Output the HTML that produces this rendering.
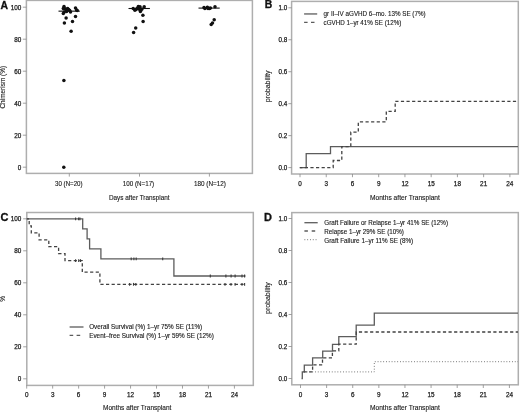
<!DOCTYPE html>
<html><head><meta charset="utf-8"><style>
html,body{margin:0;padding:0;background:#fff;}
body{width:520px;height:412px;overflow:hidden;}
svg{display:block;font-family:"Liberation Sans", sans-serif;will-change:transform;}
</style></head><body>
<svg width="520" height="412" viewBox="0 0 520 412" font-family='"Liberation Sans", sans-serif'>
<rect x="0" y="0" width="520" height="412" fill="#fff"/>
<rect x="26.40" y="0.40" width="226.00" height="173.00" fill="none" stroke="#aeaeae" stroke-width="1.5"/>
<line x1="22.80" y1="167.20" x2="26.40" y2="167.20" stroke="#8a8a8a" stroke-width="0.8" stroke-linecap="butt"/>
<text x="21.40" y="169.70" font-size="6.9" text-anchor="end" fill="#1a1a1a" textLength="3.54" lengthAdjust="spacingAndGlyphs" stroke="#1a1a1a" stroke-width="0.25">0</text>
<line x1="22.80" y1="135.20" x2="26.40" y2="135.20" stroke="#8a8a8a" stroke-width="0.8" stroke-linecap="butt"/>
<text x="21.40" y="137.70" font-size="6.9" text-anchor="end" fill="#1a1a1a" textLength="7.08" lengthAdjust="spacingAndGlyphs" stroke="#1a1a1a" stroke-width="0.25">20</text>
<line x1="22.80" y1="103.20" x2="26.40" y2="103.20" stroke="#8a8a8a" stroke-width="0.8" stroke-linecap="butt"/>
<text x="21.40" y="105.70" font-size="6.9" text-anchor="end" fill="#1a1a1a" textLength="7.08" lengthAdjust="spacingAndGlyphs" stroke="#1a1a1a" stroke-width="0.25">40</text>
<line x1="22.80" y1="71.20" x2="26.40" y2="71.20" stroke="#8a8a8a" stroke-width="0.8" stroke-linecap="butt"/>
<text x="21.40" y="73.70" font-size="6.9" text-anchor="end" fill="#1a1a1a" textLength="7.08" lengthAdjust="spacingAndGlyphs" stroke="#1a1a1a" stroke-width="0.25">60</text>
<line x1="22.80" y1="39.20" x2="26.40" y2="39.20" stroke="#8a8a8a" stroke-width="0.8" stroke-linecap="butt"/>
<text x="21.40" y="41.70" font-size="6.9" text-anchor="end" fill="#1a1a1a" textLength="7.08" lengthAdjust="spacingAndGlyphs" stroke="#1a1a1a" stroke-width="0.25">80</text>
<line x1="22.80" y1="7.20" x2="26.40" y2="7.20" stroke="#8a8a8a" stroke-width="0.8" stroke-linecap="butt"/>
<text x="21.40" y="9.70" font-size="6.9" text-anchor="end" fill="#1a1a1a" textLength="10.62" lengthAdjust="spacingAndGlyphs" stroke="#1a1a1a" stroke-width="0.25">100</text>
<line x1="69.30" y1="173.40" x2="69.30" y2="176.60" stroke="#8a8a8a" stroke-width="0.8" stroke-linecap="butt"/>
<text x="68.80" y="186.30" font-size="6.5" text-anchor="middle" fill="#1a1a1a" textLength="27.6" lengthAdjust="spacingAndGlyphs" stroke="#1a1a1a" stroke-width="0.12">30 (N=20)</text>
<line x1="139.50" y1="173.40" x2="139.50" y2="176.60" stroke="#8a8a8a" stroke-width="0.8" stroke-linecap="butt"/>
<text x="138.50" y="186.30" font-size="6.5" text-anchor="middle" fill="#1a1a1a" textLength="31.4" lengthAdjust="spacingAndGlyphs" stroke="#1a1a1a" stroke-width="0.12">100 (N=17)</text>
<line x1="209.40" y1="173.40" x2="209.40" y2="176.60" stroke="#8a8a8a" stroke-width="0.8" stroke-linecap="butt"/>
<text x="209.90" y="186.30" font-size="6.5" text-anchor="middle" fill="#1a1a1a" textLength="32.0" lengthAdjust="spacingAndGlyphs" stroke="#1a1a1a" stroke-width="0.12">180 (N=12)</text>
<text x="139.30" y="199.50" font-size="6.7" text-anchor="middle" fill="#1a1a1a" textLength="60.7" lengthAdjust="spacingAndGlyphs" stroke="#1a1a1a" stroke-width="0.12">Days after Transplant</text>
<text x="5.20" y="87.20" font-size="6.6" text-anchor="middle" fill="#1a1a1a" textLength="42.7" lengthAdjust="spacingAndGlyphs" transform="rotate(-90 5.20 87.20)" stroke="#1a1a1a" stroke-width="0.12">Chimerism (%)</text>
<text x="0.40" y="8.60" font-size="10.4" text-anchor="start" fill="#111" font-weight="bold" stroke="#111" stroke-width="0.3">A</text>
<line x1="58.50" y1="11.15" x2="79.80" y2="11.15" stroke="#111" stroke-width="1.1" stroke-linecap="butt"/>
<line x1="128.50" y1="8.50" x2="149.90" y2="8.50" stroke="#111" stroke-width="1.1" stroke-linecap="butt"/>
<line x1="198.50" y1="8.10" x2="219.70" y2="8.10" stroke="#111" stroke-width="1.1" stroke-linecap="butt"/>
<circle cx="64.00" cy="6.60" r="1.75" fill="#111"/>
<circle cx="63.30" cy="8.60" r="1.75" fill="#111"/>
<circle cx="65.20" cy="8.80" r="1.75" fill="#111"/>
<circle cx="66.30" cy="10.00" r="1.75" fill="#111"/>
<circle cx="67.60" cy="8.60" r="1.75" fill="#111"/>
<circle cx="68.70" cy="9.60" r="1.75" fill="#111"/>
<circle cx="69.70" cy="10.60" r="1.75" fill="#111"/>
<circle cx="70.50" cy="12.00" r="1.75" fill="#111"/>
<circle cx="64.20" cy="12.00" r="1.75" fill="#111"/>
<circle cx="63.30" cy="13.50" r="1.75" fill="#111"/>
<circle cx="66.60" cy="11.60" r="1.75" fill="#111"/>
<circle cx="75.50" cy="8.00" r="1.75" fill="#111"/>
<circle cx="76.60" cy="10.00" r="1.75" fill="#111"/>
<circle cx="77.20" cy="10.60" r="1.75" fill="#111"/>
<circle cx="66.10" cy="18.10" r="1.75" fill="#111"/>
<circle cx="75.50" cy="16.60" r="1.75" fill="#111"/>
<circle cx="64.40" cy="22.90" r="1.75" fill="#111"/>
<circle cx="72.50" cy="21.40" r="1.75" fill="#111"/>
<circle cx="71.10" cy="31.20" r="1.75" fill="#111"/>
<circle cx="63.90" cy="80.60" r="1.75" fill="#111"/>
<circle cx="63.80" cy="167.20" r="1.75" fill="#111"/>
<circle cx="133.20" cy="8.50" r="1.75" fill="#111"/>
<circle cx="134.90" cy="10.20" r="1.75" fill="#111"/>
<circle cx="138.30" cy="6.40" r="1.75" fill="#111"/>
<circle cx="140.00" cy="6.80" r="1.75" fill="#111"/>
<circle cx="140.40" cy="11.50" r="1.75" fill="#111"/>
<circle cx="142.00" cy="8.90" r="1.75" fill="#111"/>
<circle cx="144.20" cy="6.80" r="1.75" fill="#111"/>
<circle cx="137.00" cy="8.50" r="1.75" fill="#111"/>
<circle cx="136.00" cy="9.60" r="1.75" fill="#111"/>
<circle cx="139.20" cy="9.20" r="1.75" fill="#111"/>
<circle cx="141.00" cy="10.00" r="1.75" fill="#111"/>
<circle cx="142.90" cy="15.30" r="1.75" fill="#111"/>
<circle cx="143.10" cy="21.50" r="1.75" fill="#111"/>
<circle cx="135.70" cy="27.90" r="1.75" fill="#111"/>
<circle cx="133.60" cy="32.50" r="1.75" fill="#111"/>
<circle cx="204.00" cy="7.60" r="1.75" fill="#111"/>
<circle cx="207.40" cy="7.20" r="1.75" fill="#111"/>
<circle cx="209.50" cy="8.50" r="1.75" fill="#111"/>
<circle cx="215.00" cy="6.80" r="1.75" fill="#111"/>
<circle cx="204.90" cy="8.50" r="1.75" fill="#111"/>
<circle cx="210.40" cy="8.10" r="1.75" fill="#111"/>
<circle cx="208.00" cy="8.60" r="1.75" fill="#111"/>
<circle cx="214.20" cy="19.70" r="1.75" fill="#111"/>
<circle cx="212.50" cy="22.90" r="1.75" fill="#111"/>
<circle cx="211.20" cy="24.60" r="1.75" fill="#111"/>
<rect x="291.60" y="1.40" width="226.70" height="172.60" fill="none" stroke="#aeaeae" stroke-width="1.5"/>
<line x1="288.40" y1="167.60" x2="291.60" y2="167.60" stroke="#8a8a8a" stroke-width="0.8" stroke-linecap="butt"/>
<text x="287.30" y="170.10" font-size="6.9" text-anchor="end" fill="#1a1a1a" textLength="8.76" lengthAdjust="spacingAndGlyphs" stroke="#1a1a1a" stroke-width="0.25">0.0</text>
<line x1="288.40" y1="135.64" x2="291.60" y2="135.64" stroke="#8a8a8a" stroke-width="0.8" stroke-linecap="butt"/>
<text x="287.30" y="138.14" font-size="6.9" text-anchor="end" fill="#1a1a1a" textLength="8.76" lengthAdjust="spacingAndGlyphs" stroke="#1a1a1a" stroke-width="0.25">0.2</text>
<line x1="288.40" y1="103.68" x2="291.60" y2="103.68" stroke="#8a8a8a" stroke-width="0.8" stroke-linecap="butt"/>
<text x="287.30" y="106.18" font-size="6.9" text-anchor="end" fill="#1a1a1a" textLength="8.76" lengthAdjust="spacingAndGlyphs" stroke="#1a1a1a" stroke-width="0.25">0.4</text>
<line x1="288.40" y1="71.72" x2="291.60" y2="71.72" stroke="#8a8a8a" stroke-width="0.8" stroke-linecap="butt"/>
<text x="287.30" y="74.22" font-size="6.9" text-anchor="end" fill="#1a1a1a" textLength="8.76" lengthAdjust="spacingAndGlyphs" stroke="#1a1a1a" stroke-width="0.25">0.6</text>
<line x1="288.40" y1="39.76" x2="291.60" y2="39.76" stroke="#8a8a8a" stroke-width="0.8" stroke-linecap="butt"/>
<text x="287.30" y="42.26" font-size="6.9" text-anchor="end" fill="#1a1a1a" textLength="8.76" lengthAdjust="spacingAndGlyphs" stroke="#1a1a1a" stroke-width="0.25">0.8</text>
<line x1="288.40" y1="7.80" x2="291.60" y2="7.80" stroke="#8a8a8a" stroke-width="0.8" stroke-linecap="butt"/>
<text x="287.30" y="10.30" font-size="6.9" text-anchor="end" fill="#1a1a1a" textLength="8.76" lengthAdjust="spacingAndGlyphs" stroke="#1a1a1a" stroke-width="0.25">1.0</text>
<line x1="300.00" y1="174.00" x2="300.00" y2="177.20" stroke="#8a8a8a" stroke-width="0.8" stroke-linecap="butt"/>
<text x="300.00" y="186.30" font-size="6.9" text-anchor="middle" fill="#1a1a1a" textLength="3.54" lengthAdjust="spacingAndGlyphs" stroke="#1a1a1a" stroke-width="0.25">0</text>
<line x1="326.24" y1="174.00" x2="326.24" y2="177.20" stroke="#8a8a8a" stroke-width="0.8" stroke-linecap="butt"/>
<text x="326.24" y="186.30" font-size="6.9" text-anchor="middle" fill="#1a1a1a" textLength="3.54" lengthAdjust="spacingAndGlyphs" stroke="#1a1a1a" stroke-width="0.25">3</text>
<line x1="352.47" y1="174.00" x2="352.47" y2="177.20" stroke="#8a8a8a" stroke-width="0.8" stroke-linecap="butt"/>
<text x="352.47" y="186.30" font-size="6.9" text-anchor="middle" fill="#1a1a1a" textLength="3.54" lengthAdjust="spacingAndGlyphs" stroke="#1a1a1a" stroke-width="0.25">6</text>
<line x1="378.70" y1="174.00" x2="378.70" y2="177.20" stroke="#8a8a8a" stroke-width="0.8" stroke-linecap="butt"/>
<text x="378.70" y="186.30" font-size="6.9" text-anchor="middle" fill="#1a1a1a" textLength="3.54" lengthAdjust="spacingAndGlyphs" stroke="#1a1a1a" stroke-width="0.25">9</text>
<line x1="404.94" y1="174.00" x2="404.94" y2="177.20" stroke="#8a8a8a" stroke-width="0.8" stroke-linecap="butt"/>
<text x="404.94" y="186.30" font-size="6.9" text-anchor="middle" fill="#1a1a1a" textLength="7.08" lengthAdjust="spacingAndGlyphs" stroke="#1a1a1a" stroke-width="0.25">12</text>
<line x1="431.17" y1="174.00" x2="431.17" y2="177.20" stroke="#8a8a8a" stroke-width="0.8" stroke-linecap="butt"/>
<text x="431.17" y="186.30" font-size="6.9" text-anchor="middle" fill="#1a1a1a" textLength="7.08" lengthAdjust="spacingAndGlyphs" stroke="#1a1a1a" stroke-width="0.25">15</text>
<line x1="457.41" y1="174.00" x2="457.41" y2="177.20" stroke="#8a8a8a" stroke-width="0.8" stroke-linecap="butt"/>
<text x="457.41" y="186.30" font-size="6.9" text-anchor="middle" fill="#1a1a1a" textLength="7.08" lengthAdjust="spacingAndGlyphs" stroke="#1a1a1a" stroke-width="0.25">18</text>
<line x1="483.64" y1="174.00" x2="483.64" y2="177.20" stroke="#8a8a8a" stroke-width="0.8" stroke-linecap="butt"/>
<text x="483.64" y="186.30" font-size="6.9" text-anchor="middle" fill="#1a1a1a" textLength="7.08" lengthAdjust="spacingAndGlyphs" stroke="#1a1a1a" stroke-width="0.25">21</text>
<line x1="509.88" y1="174.00" x2="509.88" y2="177.20" stroke="#8a8a8a" stroke-width="0.8" stroke-linecap="butt"/>
<text x="509.88" y="186.30" font-size="6.9" text-anchor="middle" fill="#1a1a1a" textLength="7.08" lengthAdjust="spacingAndGlyphs" stroke="#1a1a1a" stroke-width="0.25">24</text>
<text x="404.90" y="200.00" font-size="6.8" text-anchor="middle" fill="#1a1a1a" textLength="70.0" lengthAdjust="spacingAndGlyphs" stroke="#1a1a1a" stroke-width="0.12">Months after Transplant</text>
<text x="269.70" y="86.40" font-size="6.6" text-anchor="middle" fill="#1a1a1a" textLength="31.8" lengthAdjust="spacingAndGlyphs" transform="rotate(-90 269.70 86.40)" stroke="#1a1a1a" stroke-width="0.12">probability</text>
<text x="264.80" y="7.80" font-size="10.4" text-anchor="start" fill="#111" font-weight="bold" stroke="#111" stroke-width="0.3">B</text>
<line x1="304.10" y1="13.95" x2="317.20" y2="13.95" stroke="#5c5c5c" stroke-width="1.3" stroke-linecap="butt"/>
<line x1="304.10" y1="22.30" x2="317.40" y2="22.30" stroke="#5c5c5c" stroke-width="1.3" stroke-dasharray="3.5,3.4" stroke-linecap="butt"/>
<text x="323.60" y="16.40" font-size="6.4" text-anchor="start" fill="#1a1a1a" textLength="102" lengthAdjust="spacingAndGlyphs" stroke="#1a1a1a" stroke-width="0.12">gr II–IV aGVHD 6–mo. 13% SE (7%)</text>
<text x="323.60" y="25.20" font-size="6.4" text-anchor="start" fill="#1a1a1a" textLength="77.7" lengthAdjust="spacingAndGlyphs" stroke="#1a1a1a" stroke-width="0.12">cGVHD 1–yr 41% SE (12%)</text>
<polyline points="299.80,167.60 306.20,167.60 306.20,153.70 330.50,153.70 330.50,146.70 518.00,146.70" fill="none" stroke="#5c5c5c" stroke-width="1.3" stroke-linejoin="miter"/>
<polyline points="299.80,167.60 333.20,167.60 333.20,160.50 341.80,160.50 341.80,146.70 350.80,146.70 350.80,132.20 358.30,132.20 358.30,121.90 386.30,121.90 386.30,111.30 395.20,111.30 395.20,101.30 518.00,101.30" fill="none" stroke="#424242" stroke-width="1.3" stroke-dasharray="3.2,2.4" stroke-dashoffset="0.6" stroke-linejoin="miter"/>
<rect x="26.80" y="212.50" width="226.50" height="172.90" fill="none" stroke="#aeaeae" stroke-width="1.5"/>
<line x1="23.20" y1="378.80" x2="26.80" y2="378.80" stroke="#8a8a8a" stroke-width="0.8" stroke-linecap="butt"/>
<text x="21.40" y="381.30" font-size="6.9" text-anchor="end" fill="#1a1a1a" textLength="3.54" lengthAdjust="spacingAndGlyphs" stroke="#1a1a1a" stroke-width="0.25">0</text>
<line x1="23.20" y1="346.80" x2="26.80" y2="346.80" stroke="#8a8a8a" stroke-width="0.8" stroke-linecap="butt"/>
<text x="21.40" y="349.30" font-size="6.9" text-anchor="end" fill="#1a1a1a" textLength="7.08" lengthAdjust="spacingAndGlyphs" stroke="#1a1a1a" stroke-width="0.25">20</text>
<line x1="23.20" y1="314.80" x2="26.80" y2="314.80" stroke="#8a8a8a" stroke-width="0.8" stroke-linecap="butt"/>
<text x="21.40" y="317.30" font-size="6.9" text-anchor="end" fill="#1a1a1a" textLength="7.08" lengthAdjust="spacingAndGlyphs" stroke="#1a1a1a" stroke-width="0.25">40</text>
<line x1="23.20" y1="282.80" x2="26.80" y2="282.80" stroke="#8a8a8a" stroke-width="0.8" stroke-linecap="butt"/>
<text x="21.40" y="285.30" font-size="6.9" text-anchor="end" fill="#1a1a1a" textLength="7.08" lengthAdjust="spacingAndGlyphs" stroke="#1a1a1a" stroke-width="0.25">60</text>
<line x1="23.20" y1="250.80" x2="26.80" y2="250.80" stroke="#8a8a8a" stroke-width="0.8" stroke-linecap="butt"/>
<text x="21.40" y="253.30" font-size="6.9" text-anchor="end" fill="#1a1a1a" textLength="7.08" lengthAdjust="spacingAndGlyphs" stroke="#1a1a1a" stroke-width="0.25">80</text>
<line x1="23.20" y1="218.80" x2="26.80" y2="218.80" stroke="#8a8a8a" stroke-width="0.8" stroke-linecap="butt"/>
<text x="21.40" y="221.30" font-size="6.9" text-anchor="end" fill="#1a1a1a" textLength="10.62" lengthAdjust="spacingAndGlyphs" stroke="#1a1a1a" stroke-width="0.25">100</text>
<line x1="26.70" y1="385.40" x2="26.70" y2="388.60" stroke="#8a8a8a" stroke-width="0.8" stroke-linecap="butt"/>
<text x="26.70" y="396.90" font-size="6.9" text-anchor="middle" fill="#1a1a1a" textLength="3.54" lengthAdjust="spacingAndGlyphs" stroke="#1a1a1a" stroke-width="0.25">0</text>
<line x1="52.66" y1="385.40" x2="52.66" y2="388.60" stroke="#8a8a8a" stroke-width="0.8" stroke-linecap="butt"/>
<text x="52.66" y="396.90" font-size="6.9" text-anchor="middle" fill="#1a1a1a" textLength="3.54" lengthAdjust="spacingAndGlyphs" stroke="#1a1a1a" stroke-width="0.25">3</text>
<line x1="78.63" y1="385.40" x2="78.63" y2="388.60" stroke="#8a8a8a" stroke-width="0.8" stroke-linecap="butt"/>
<text x="78.63" y="396.90" font-size="6.9" text-anchor="middle" fill="#1a1a1a" textLength="3.54" lengthAdjust="spacingAndGlyphs" stroke="#1a1a1a" stroke-width="0.25">6</text>
<line x1="104.59" y1="385.40" x2="104.59" y2="388.60" stroke="#8a8a8a" stroke-width="0.8" stroke-linecap="butt"/>
<text x="104.59" y="396.90" font-size="6.9" text-anchor="middle" fill="#1a1a1a" textLength="3.54" lengthAdjust="spacingAndGlyphs" stroke="#1a1a1a" stroke-width="0.25">9</text>
<line x1="130.56" y1="385.40" x2="130.56" y2="388.60" stroke="#8a8a8a" stroke-width="0.8" stroke-linecap="butt"/>
<text x="130.56" y="396.90" font-size="6.9" text-anchor="middle" fill="#1a1a1a" textLength="7.08" lengthAdjust="spacingAndGlyphs" stroke="#1a1a1a" stroke-width="0.25">12</text>
<line x1="156.52" y1="385.40" x2="156.52" y2="388.60" stroke="#8a8a8a" stroke-width="0.8" stroke-linecap="butt"/>
<text x="156.52" y="396.90" font-size="6.9" text-anchor="middle" fill="#1a1a1a" textLength="7.08" lengthAdjust="spacingAndGlyphs" stroke="#1a1a1a" stroke-width="0.25">15</text>
<line x1="182.49" y1="385.40" x2="182.49" y2="388.60" stroke="#8a8a8a" stroke-width="0.8" stroke-linecap="butt"/>
<text x="182.49" y="396.90" font-size="6.9" text-anchor="middle" fill="#1a1a1a" textLength="7.08" lengthAdjust="spacingAndGlyphs" stroke="#1a1a1a" stroke-width="0.25">18</text>
<line x1="208.45" y1="385.40" x2="208.45" y2="388.60" stroke="#8a8a8a" stroke-width="0.8" stroke-linecap="butt"/>
<text x="208.45" y="396.90" font-size="6.9" text-anchor="middle" fill="#1a1a1a" textLength="7.08" lengthAdjust="spacingAndGlyphs" stroke="#1a1a1a" stroke-width="0.25">21</text>
<line x1="234.42" y1="385.40" x2="234.42" y2="388.60" stroke="#8a8a8a" stroke-width="0.8" stroke-linecap="butt"/>
<text x="234.42" y="396.90" font-size="6.9" text-anchor="middle" fill="#1a1a1a" textLength="7.08" lengthAdjust="spacingAndGlyphs" stroke="#1a1a1a" stroke-width="0.25">24</text>
<text x="137.20" y="410.40" font-size="6.8" text-anchor="middle" fill="#1a1a1a" textLength="68.3" lengthAdjust="spacingAndGlyphs" stroke="#1a1a1a" stroke-width="0.12">Months after Transplant</text>
<text x="5.00" y="299.00" font-size="6.4" text-anchor="middle" fill="#1a1a1a" transform="rotate(-90 5.00 299.00)" stroke="#1a1a1a" stroke-width="0.12">%</text>
<text x="0.50" y="220.90" font-size="11.0" text-anchor="start" fill="#111" font-weight="bold" stroke="#111" stroke-width="0.3">C</text>
<line x1="69.60" y1="327.00" x2="83.50" y2="327.00" stroke="#5c5c5c" stroke-width="1.3" stroke-linecap="butt"/>
<line x1="69.60" y1="335.40" x2="83.50" y2="335.40" stroke="#5c5c5c" stroke-width="1.3" stroke-dasharray="3.6,3.4" stroke-linecap="butt"/>
<text x="89.20" y="329.20" font-size="6.4" text-anchor="start" fill="#1a1a1a" textLength="113" lengthAdjust="spacingAndGlyphs" stroke="#1a1a1a" stroke-width="0.12">Overall Survival (%) 1–yr 75% SE (11%)</text>
<text x="89.20" y="337.60" font-size="6.4" text-anchor="start" fill="#1a1a1a" textLength="124.6" lengthAdjust="spacingAndGlyphs" stroke="#1a1a1a" stroke-width="0.12">Event–free Survival (%) 1–yr 59% SE (12%)</text>
<polyline points="26.80,218.80 82.70,218.80 82.70,228.80 87.10,228.80 87.10,238.80 89.60,238.80 89.60,248.80 100.90,248.80 100.90,258.80 173.90,258.80 173.90,276.00 245.40,276.00" fill="none" stroke="#5c5c5c" stroke-width="1.3" stroke-linejoin="miter"/>
<polyline points="26.80,218.80 29.20,218.80 29.20,225.80 31.30,225.80 31.30,232.80 39.10,232.80 39.10,239.80 48.80,239.80 48.80,246.70 58.60,246.70 58.60,253.60 65.00,253.60 65.00,260.60 82.30,260.60 82.30,272.20 99.90,272.20 99.90,284.30 245.40,284.30" fill="none" stroke="#424242" stroke-width="1.3" stroke-dasharray="3.2,2.4" stroke-dashoffset="0.9" stroke-linejoin="miter"/>
<line x1="75.60" y1="217.40" x2="75.60" y2="220.20" stroke="#3a3a3a" stroke-width="1.1" stroke-linecap="butt"/>
<line x1="78.60" y1="217.40" x2="78.60" y2="220.20" stroke="#3a3a3a" stroke-width="1.1" stroke-linecap="butt"/>
<line x1="79.90" y1="217.40" x2="79.90" y2="220.20" stroke="#3a3a3a" stroke-width="1.1" stroke-linecap="butt"/>
<line x1="131.20" y1="257.40" x2="131.20" y2="260.20" stroke="#3a3a3a" stroke-width="1.1" stroke-linecap="butt"/>
<line x1="133.90" y1="257.40" x2="133.90" y2="260.20" stroke="#3a3a3a" stroke-width="1.1" stroke-linecap="butt"/>
<line x1="136.20" y1="257.40" x2="136.20" y2="260.20" stroke="#3a3a3a" stroke-width="1.1" stroke-linecap="butt"/>
<line x1="162.70" y1="257.40" x2="162.70" y2="260.20" stroke="#3a3a3a" stroke-width="1.1" stroke-linecap="butt"/>
<line x1="210.30" y1="274.60" x2="210.30" y2="277.40" stroke="#3a3a3a" stroke-width="1.1" stroke-linecap="butt"/>
<line x1="225.90" y1="274.60" x2="225.90" y2="277.40" stroke="#3a3a3a" stroke-width="1.1" stroke-linecap="butt"/>
<line x1="231.10" y1="274.60" x2="231.10" y2="277.40" stroke="#3a3a3a" stroke-width="1.1" stroke-linecap="butt"/>
<line x1="235.10" y1="274.60" x2="235.10" y2="277.40" stroke="#3a3a3a" stroke-width="1.1" stroke-linecap="butt"/>
<line x1="242.00" y1="274.60" x2="242.00" y2="277.40" stroke="#3a3a3a" stroke-width="1.1" stroke-linecap="butt"/>
<line x1="244.60" y1="274.60" x2="244.60" y2="277.40" stroke="#3a3a3a" stroke-width="1.1" stroke-linecap="butt"/>
<line x1="75.60" y1="259.20" x2="75.60" y2="262.00" stroke="#3a3a3a" stroke-width="1.1" stroke-linecap="butt"/>
<line x1="78.70" y1="259.20" x2="78.70" y2="262.00" stroke="#3a3a3a" stroke-width="1.1" stroke-linecap="butt"/>
<line x1="80.50" y1="259.20" x2="80.50" y2="262.00" stroke="#3a3a3a" stroke-width="1.1" stroke-linecap="butt"/>
<line x1="129.60" y1="282.90" x2="129.60" y2="285.70" stroke="#3a3a3a" stroke-width="1.1" stroke-linecap="butt"/>
<line x1="133.50" y1="282.90" x2="133.50" y2="285.70" stroke="#3a3a3a" stroke-width="1.1" stroke-linecap="butt"/>
<line x1="135.80" y1="282.90" x2="135.80" y2="285.70" stroke="#3a3a3a" stroke-width="1.1" stroke-linecap="butt"/>
<line x1="225.00" y1="282.90" x2="225.00" y2="285.70" stroke="#3a3a3a" stroke-width="1.1" stroke-linecap="butt"/>
<line x1="231.00" y1="282.90" x2="231.00" y2="285.70" stroke="#3a3a3a" stroke-width="1.1" stroke-linecap="butt"/>
<line x1="235.10" y1="282.90" x2="235.10" y2="285.70" stroke="#3a3a3a" stroke-width="1.1" stroke-linecap="butt"/>
<line x1="242.00" y1="282.90" x2="242.00" y2="285.70" stroke="#3a3a3a" stroke-width="1.1" stroke-linecap="butt"/>
<line x1="244.60" y1="282.90" x2="244.60" y2="285.70" stroke="#3a3a3a" stroke-width="1.1" stroke-linecap="butt"/>
<rect x="291.80" y="212.60" width="226.50" height="172.20" fill="none" stroke="#aeaeae" stroke-width="1.5"/>
<line x1="288.60" y1="378.50" x2="291.80" y2="378.50" stroke="#8a8a8a" stroke-width="0.8" stroke-linecap="butt"/>
<text x="287.30" y="381.00" font-size="6.9" text-anchor="end" fill="#1a1a1a" textLength="8.76" lengthAdjust="spacingAndGlyphs" stroke="#1a1a1a" stroke-width="0.25">0.0</text>
<line x1="288.60" y1="346.50" x2="291.80" y2="346.50" stroke="#8a8a8a" stroke-width="0.8" stroke-linecap="butt"/>
<text x="287.30" y="349.00" font-size="6.9" text-anchor="end" fill="#1a1a1a" textLength="8.76" lengthAdjust="spacingAndGlyphs" stroke="#1a1a1a" stroke-width="0.25">0.2</text>
<line x1="288.60" y1="314.50" x2="291.80" y2="314.50" stroke="#8a8a8a" stroke-width="0.8" stroke-linecap="butt"/>
<text x="287.30" y="317.00" font-size="6.9" text-anchor="end" fill="#1a1a1a" textLength="8.76" lengthAdjust="spacingAndGlyphs" stroke="#1a1a1a" stroke-width="0.25">0.4</text>
<line x1="288.60" y1="282.50" x2="291.80" y2="282.50" stroke="#8a8a8a" stroke-width="0.8" stroke-linecap="butt"/>
<text x="287.30" y="285.00" font-size="6.9" text-anchor="end" fill="#1a1a1a" textLength="8.76" lengthAdjust="spacingAndGlyphs" stroke="#1a1a1a" stroke-width="0.25">0.6</text>
<line x1="288.60" y1="250.50" x2="291.80" y2="250.50" stroke="#8a8a8a" stroke-width="0.8" stroke-linecap="butt"/>
<text x="287.30" y="253.00" font-size="6.9" text-anchor="end" fill="#1a1a1a" textLength="8.76" lengthAdjust="spacingAndGlyphs" stroke="#1a1a1a" stroke-width="0.25">0.8</text>
<line x1="288.60" y1="218.50" x2="291.80" y2="218.50" stroke="#8a8a8a" stroke-width="0.8" stroke-linecap="butt"/>
<text x="287.30" y="221.00" font-size="6.9" text-anchor="end" fill="#1a1a1a" textLength="8.76" lengthAdjust="spacingAndGlyphs" stroke="#1a1a1a" stroke-width="0.25">1.0</text>
<line x1="300.50" y1="384.80" x2="300.50" y2="388.00" stroke="#8a8a8a" stroke-width="0.8" stroke-linecap="butt"/>
<text x="300.50" y="396.60" font-size="6.9" text-anchor="middle" fill="#1a1a1a" textLength="3.54" lengthAdjust="spacingAndGlyphs" stroke="#1a1a1a" stroke-width="0.25">0</text>
<line x1="326.62" y1="384.80" x2="326.62" y2="388.00" stroke="#8a8a8a" stroke-width="0.8" stroke-linecap="butt"/>
<text x="326.62" y="396.60" font-size="6.9" text-anchor="middle" fill="#1a1a1a" textLength="3.54" lengthAdjust="spacingAndGlyphs" stroke="#1a1a1a" stroke-width="0.25">3</text>
<line x1="352.73" y1="384.80" x2="352.73" y2="388.00" stroke="#8a8a8a" stroke-width="0.8" stroke-linecap="butt"/>
<text x="352.73" y="396.60" font-size="6.9" text-anchor="middle" fill="#1a1a1a" textLength="3.54" lengthAdjust="spacingAndGlyphs" stroke="#1a1a1a" stroke-width="0.25">6</text>
<line x1="378.85" y1="384.80" x2="378.85" y2="388.00" stroke="#8a8a8a" stroke-width="0.8" stroke-linecap="butt"/>
<text x="378.85" y="396.60" font-size="6.9" text-anchor="middle" fill="#1a1a1a" textLength="3.54" lengthAdjust="spacingAndGlyphs" stroke="#1a1a1a" stroke-width="0.25">9</text>
<line x1="404.96" y1="384.80" x2="404.96" y2="388.00" stroke="#8a8a8a" stroke-width="0.8" stroke-linecap="butt"/>
<text x="404.96" y="396.60" font-size="6.9" text-anchor="middle" fill="#1a1a1a" textLength="7.08" lengthAdjust="spacingAndGlyphs" stroke="#1a1a1a" stroke-width="0.25">12</text>
<line x1="431.07" y1="384.80" x2="431.07" y2="388.00" stroke="#8a8a8a" stroke-width="0.8" stroke-linecap="butt"/>
<text x="431.07" y="396.60" font-size="6.9" text-anchor="middle" fill="#1a1a1a" textLength="7.08" lengthAdjust="spacingAndGlyphs" stroke="#1a1a1a" stroke-width="0.25">15</text>
<line x1="457.19" y1="384.80" x2="457.19" y2="388.00" stroke="#8a8a8a" stroke-width="0.8" stroke-linecap="butt"/>
<text x="457.19" y="396.60" font-size="6.9" text-anchor="middle" fill="#1a1a1a" textLength="7.08" lengthAdjust="spacingAndGlyphs" stroke="#1a1a1a" stroke-width="0.25">18</text>
<line x1="483.31" y1="384.80" x2="483.31" y2="388.00" stroke="#8a8a8a" stroke-width="0.8" stroke-linecap="butt"/>
<text x="483.31" y="396.60" font-size="6.9" text-anchor="middle" fill="#1a1a1a" textLength="7.08" lengthAdjust="spacingAndGlyphs" stroke="#1a1a1a" stroke-width="0.25">21</text>
<line x1="509.42" y1="384.80" x2="509.42" y2="388.00" stroke="#8a8a8a" stroke-width="0.8" stroke-linecap="butt"/>
<text x="509.42" y="396.60" font-size="6.9" text-anchor="middle" fill="#1a1a1a" textLength="7.08" lengthAdjust="spacingAndGlyphs" stroke="#1a1a1a" stroke-width="0.25">24</text>
<text x="404.90" y="410.30" font-size="6.8" text-anchor="middle" fill="#1a1a1a" textLength="70.0" lengthAdjust="spacingAndGlyphs" stroke="#1a1a1a" stroke-width="0.12">Months after Transplant</text>
<text x="269.70" y="298.10" font-size="6.6" text-anchor="middle" fill="#1a1a1a" textLength="31.8" lengthAdjust="spacingAndGlyphs" transform="rotate(-90 269.70 298.10)" stroke="#1a1a1a" stroke-width="0.12">probability</text>
<text x="264.00" y="220.90" font-size="11.0" text-anchor="start" fill="#111" font-weight="bold" stroke="#111" stroke-width="0.3">D</text>
<line x1="304.40" y1="222.70" x2="317.70" y2="222.70" stroke="#5c5c5c" stroke-width="1.3" stroke-linecap="butt"/>
<line x1="304.40" y1="231.00" x2="317.70" y2="231.00" stroke="#5c5c5c" stroke-width="1.3" stroke-dasharray="3.5,3.8" stroke-linecap="butt"/>
<line x1="304.40" y1="239.70" x2="317.70" y2="239.70" stroke="#5c5c5c" stroke-width="0.9" stroke-dasharray="0.9,1.9" stroke-linecap="butt"/>
<text x="324.30" y="225.10" font-size="6.4" text-anchor="start" fill="#1a1a1a" textLength="123.7" lengthAdjust="spacingAndGlyphs" stroke="#1a1a1a" stroke-width="0.12">Graft Failure or Relapse 1–yr 41% SE (12%)</text>
<text x="324.30" y="234.20" font-size="6.4" text-anchor="start" fill="#1a1a1a" textLength="79.5" lengthAdjust="spacingAndGlyphs" stroke="#1a1a1a" stroke-width="0.12">Relapse 1–yr 29% SE (10%)</text>
<text x="324.30" y="243.20" font-size="6.4" text-anchor="start" fill="#1a1a1a" textLength="88.9" lengthAdjust="spacingAndGlyphs" stroke="#1a1a1a" stroke-width="0.12">Graft Failure 1–yr 11% SE (8%)</text>
<polyline points="301.50,378.50 302.30,378.50 302.30,371.90 304.30,371.90 304.30,365.20 312.60,365.20 312.60,357.90 322.70,357.90 322.70,351.10 332.50,351.10 332.50,344.30 338.80,344.30 338.80,336.70 356.20,336.70 356.20,325.20 374.30,325.20 374.30,313.20 518.00,313.20" fill="none" stroke="#5c5c5c" stroke-width="1.3" stroke-linejoin="miter"/>
<polyline points="302.30,371.90 312.60,371.90 312.60,364.90 322.50,364.90 322.50,357.90 332.40,357.90 332.40,350.80 338.80,350.80 338.80,344.20 356.20,344.20 356.20,332.00 518.00,332.00" fill="none" stroke="#424242" stroke-width="1.3" stroke-dasharray="3.2,2.4" stroke-dashoffset="4.3" stroke-linejoin="miter"/>
<polyline points="303.80,371.90 374.30,371.90 374.30,361.70 518.00,361.70" fill="none" stroke="#5c5c5c" stroke-width="0.9" stroke-dasharray="0.9,1.9" stroke-linejoin="miter"/>
</svg>
</body></html>
